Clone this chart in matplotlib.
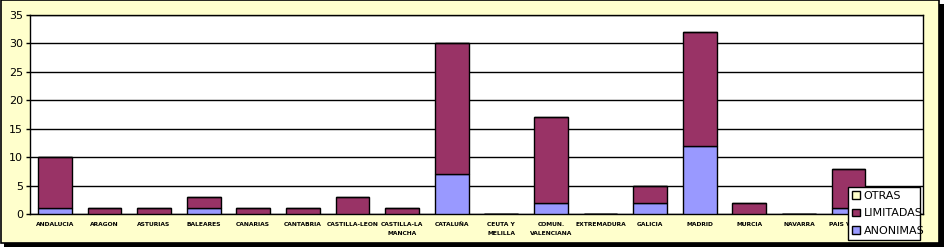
import matplotlib.pyplot as plt
import numpy as np
from matplotlib.patches import Rectangle, Patch

# -------------------------------
# DATA
# -------------------------------
regions = ["ANDALUCIA", "ARAGON", "ASTURIAS", "BALEARES", "CANARIAS", "CANTABRIA",
           "CASTILLA-LEON", "CASTILLA-LA\nMANCHA", "CATALUÑA", "CEUTA Y\nMELILLA",
           "COMUN.\nVALENCIANA", "EXTREMADURA", "GALICIA", "MADRID", "MURCIA",
           "NAVARRA", "PAIS VASCO", "RIOJA"]
anonimas = [1, 0, 0, 1, 0, 0, 0, 0, 7, 0, 2, 0, 2, 12, 0, 0, 1, 0]
limitadas = [9, 1, 1, 2, 1, 1, 3, 1, 23, 0, 15, 0, 3, 20, 2, 0, 7, 0]
otras = [0] * len(regions)

c_anon = "#9999FF"
c_lim = "#993366"
c_otras = "#FFFFCC"
bg = "#FFFFCC"

# -------------------------------
# FIGURE
# -------------------------------
W, H = 944, 247
fig = plt.figure(figsize=(W / 100, H / 100), dpi=100)
fig.patch.set_facecolor("white")

# chart frame with shadow
fig.patches.append(Rectangle((4 / W, 0), (W - 4) / W, (H - 4) / H,
                             transform=fig.transFigure, facecolor="black",
                             edgecolor="none", zorder=-2))
fig.patches.append(Rectangle((0.5 / W, 4 / H), (W - 6) / W, (H - 4.5) / H,
                             transform=fig.transFigure, facecolor=bg,
                             edgecolor="black", linewidth=1.2, zorder=-1))

ax = fig.add_axes([30 / W, 1 - 214 / H, (923 - 30) / W, (214 - 15) / H])
ax.set_facecolor("white")

x = np.arange(len(regions))
bw = 0.68
anon = np.array(anonimas)
lim = np.array(limitadas)
ax.bar(x, anon, bw, color=c_anon, edgecolor="black", linewidth=1, zorder=3)
ax.bar(x, lim, bw, bottom=anon, color=c_lim, edgecolor="black", linewidth=1, zorder=3)
ax.bar(x, otras, bw, bottom=anon + lim, color=c_otras, edgecolor="black", linewidth=1, zorder=3)

ax.set_xlim(-0.5, len(regions) - 0.5)
ax.set_ylim(0, 35)
ax.set_yticks(np.arange(0, 36, 5))
ax.yaxis.grid(True, color="black", linewidth=1)
ax.set_axisbelow(True)
for s in ax.spines.values():
    s.set_color("black")
    s.set_linewidth(1)

ax.tick_params(axis="y", length=3, width=1, labelsize=8, pad=2)
ax.tick_params(axis="x", length=0, pad=6)
ax.set_xticks(x)
ax.set_xticklabels(regions, fontsize=4.3, fontweight="bold", linespacing=1.9,
                   va="top")

handles = [Patch(facecolor=c_otras, edgecolor="black", label="OTRAS"),
           Patch(facecolor=c_lim, edgecolor="black", label="LIMITADAS"),
           Patch(facecolor=c_anon, edgecolor="black", label="ANONIMAS")]
leg = fig.legend(handles=handles, loc="lower left",
                 bbox_to_anchor=(848 / W, 1 - 240 / H, 72 / W, 60 / H),
                 mode="expand", fontsize=8, frameon=True, fancybox=False,
                 handlelength=0.7, handleheight=0.7, handletextpad=0.3,
                 labelspacing=0.65, borderpad=0.4, borderaxespad=0)
leg.get_frame().set_edgecolor("black")
leg.get_frame().set_linewidth(1)
leg.get_frame().set_facecolor("white")
leg.get_frame().set_alpha(1)

plt.savefig("out.png", dpi=100, facecolor=fig.get_facecolor())
